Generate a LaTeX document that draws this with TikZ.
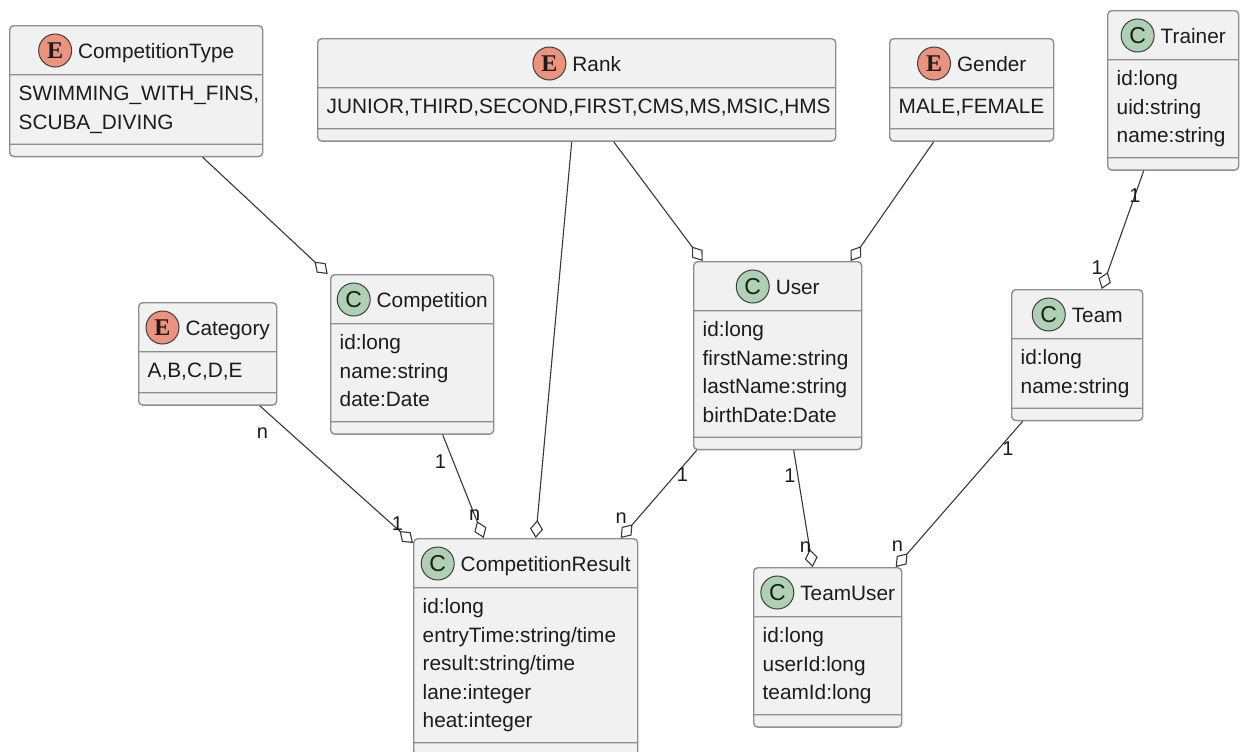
\documentclass[tikz,border=0pt]{standalone}
\usepackage{fontspec}
\setmainfont{Liberation Sans}
\newfontfamily\spotserif{Liberation Serif}
\usetikzlibrary{shapes.multipart,arrows.meta}

\definecolor{boxfill}{HTML}{F1F1F1}
\definecolor{boxline}{HTML}{8E8E8E}
\definecolor{linkline}{HTML}{383838}
\definecolor{enumfill}{HTML}{EB937F}
\definecolor{classfill}{HTML}{ADD1B2}
\definecolor{umltext}{HTML}{1C1C1C}

\newcommand{\umlfont}{\fontsize{10.4}{14.25}\selectfont}
\newcommand{\enumspot}{\tikz[baseline=-3.8pt]\node[shape=circle, anchor=center, text width=, align=center, draw=umltext!85, line width=0.5pt, fill=enumfill, inner sep=0pt, minimum size=16.5pt, font=\spotserif\bfseries\fontsize{12}{12}\selectfont]{E};\hspace{3pt}}
\newcommand{\classspot}{\tikz[baseline=-3.8pt]\node[shape=circle, anchor=center, text width=, align=center, draw=umltext!85, line width=0.5pt, fill=classfill, inner sep=0pt, minimum size=16.5pt, font=\fontsize{11.5}{12}\selectfont]{C};\hspace{3pt}}
\newcommand{\umlhead}[2]{\rule[-7.85pt]{0pt}{23.6pt}\makebox[\hsize]{#1#2}}
\newcommand{\topstrut}{\rule{0pt}{12.65pt}}
\newcommand{\botstrut}{\rule[-6.95pt]{0pt}{0pt}}

\begin{document}
\begin{tikzpicture}[x=0.5pt, y=-0.5pt,
    umlbox/.style={rectangle split, rectangle split parts=3, draw=boxline, fill=boxfill, line width=0.7pt, rounded corners=2pt, anchor=north west, inner xsep=4.5pt, inner ysep=0.1pt, align=left, font=\umlfont, text=umltext},
    link/.style={draw=linkline, line width=0.55pt, -{Diamond[open, length=9pt, width=6.5pt]}},
    mult/.style={font=\fontsize{10}{12}\selectfont, text=umltext, inner sep=1pt}
]
\useasboundingbox (0,0) rectangle (1241,751);
\node[umlbox, text width=117.5pt] (comptype) at (9,25) {\umlhead{\enumspot}{CompetitionType}\nodepart{two}\topstrut SWIMMING\_WITH\_FINS,\\SCUBA\_DIVING\botstrut};
\node[umlbox, text width=250pt] (rank) at (317,38) {\umlhead{\enumspot}{Rank}\nodepart{two}\topstrut JUNIOR,THIRD,SECOND,FIRST,CMS,MS,MSIC,HMS\botstrut};
\node[umlbox, text width=73pt] (gender) at (889,38) {\umlhead{\enumspot}{Gender}\nodepart{two}\topstrut MALE,FEMALE\botstrut};
\node[umlbox, text width=56.5pt] (trainer) at (1107,10) {\umlhead{\classspot}{Trainer}\nodepart{two}\topstrut id:long\\uid:string\\name:string\botstrut};
\node[umlbox, text width=60pt] (category) at (138,302) {\umlhead{\enumspot}{Category}\nodepart{two}\topstrut A,B,C,D,E\botstrut};
\node[umlbox, text width=72.5pt] (competition) at (330,274) {\umlhead{\classspot}{Competition}\nodepart{two}\topstrut id:long\\name:string\\date:Date\botstrut};
\node[umlbox, text width=75pt] (user) at (693,261) {\umlhead{\classspot}{User}\nodepart{two}\topstrut id:long\\firstName:string\\lastName:string\\birthDate:Date\botstrut};
\node[umlbox, text width=56.5pt] (team) at (1011,289) {\umlhead{\classspot}{Team}\nodepart{two}\topstrut id:long\\name:string\botstrut};
\node[umlbox, text width=103pt] (result) at (413,538) {\umlhead{\classspot}{CompetitionResult}\nodepart{two}\topstrut id:long\\entryTime:string/time\\result:string/time\\lane:integer\\heat:integer\botstrut};
\node[umlbox, text width=65pt] (teamuser) at (753,567) {\umlhead{\classspot}{TeamUser}\nodepart{two}\topstrut id:long\\userId:long\\teamId:long\botstrut};

\draw[link] ([xshift=33.25pt]comptype.south) -- ([xshift=-42.25pt]competition.north);
\draw[link] ([xshift=-2.5pt]rank.south) -- ([xshift=5pt]result.north);
\draw[link] ([xshift=18.5pt]rank.south) -- ([xshift=-37.5pt]user.north);
\draw[link] ([xshift=-19pt]gender.south) -- ([xshift=36.5pt]user.north);
\draw[link] ([xshift=-14.75pt]trainer.south) -- node[mult, pos=0.21] (tr-m) {1} node[mult, pos=0.82, xshift=-6pt] (tm-m1) {1} ([xshift=12.25pt]team.north);
\draw[link] ([xshift=-27.25pt]team.south) -- node[mult, pos=0.19, xshift=4.7pt] (tm-m2) {1} node[mult, pos=0.86, xshift=-8pt] (tu-m1) {n} ([xshift=34pt]teamuser.north);
\draw[link] ([xshift=-40.5pt]user.south) -- node[mult, pos=0.28, xshift=3.5pt] (us-m1) {1} node[mult, pos=0.77, xshift=-8.5pt] (rs-m1) {n} ([xshift=47.5pt]result.north);
\draw[link] ([xshift=8pt]user.south) -- node[mult, pos=0.22, xshift=-4pt] (us-m2) {1} node[mult, pos=0.83, xshift=-2pt] (tu-m2) {n} ([xshift=-7.5pt]teamuser.north);
\draw[link] ([xshift=26pt]category.south) -- node[mult, pos=0.2, xshift=-14pt] (ct-m) {n} node[mult, pos=0.86, xshift=3pt] (rs-m2) {1} ([yshift=-2.5pt]result.north west);
\draw[link] ([xshift=15.25pt]competition.south) -- node[mult, pos=0.26, xshift=-6.5pt] (cp-m) {1} node[mult, pos=0.78] (rs-m3) {n} ([xshift=-21pt]result.north);
\end{tikzpicture}
\end{document}
